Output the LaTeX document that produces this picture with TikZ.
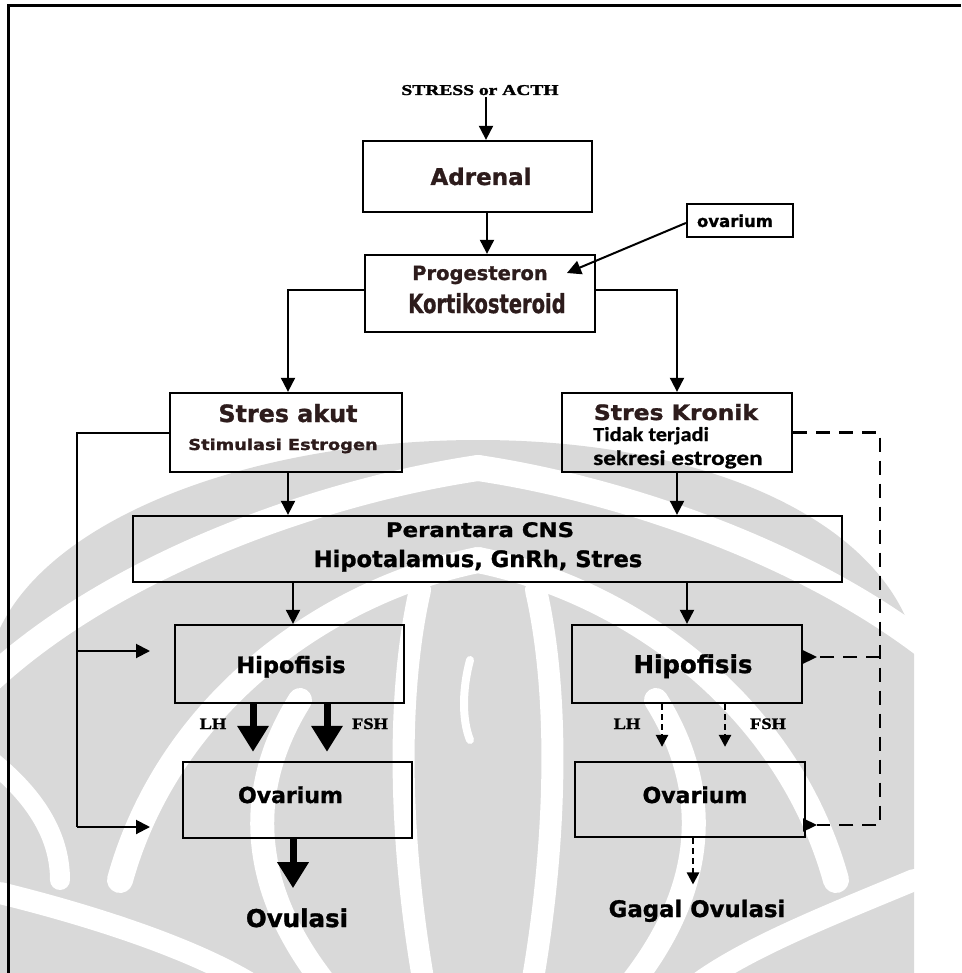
\documentclass[tikz,border=0pt]{standalone}
\usepackage{fontspec}
\setmainfont{DejaVu Sans}
\newfontfamily\hv{DejaVu Sans Bold}[FakeBold=1.2]
\newfontfamily\serifb{Liberation Serif Bold}[FakeBold=1.5]
\newfontfamily\carl{Carlito Bold}[FakeBold=0.6]
\usetikzlibrary{arrows.meta,calc}
\definecolor{wm}{RGB}{217,217,217}
\definecolor{brn}{RGB}{45,28,28}
\newcommand{\fs}[1]{\fontsize{#1}{#1}\selectfont}
\begin{document}
\begin{tikzpicture}[x=1pt,y=-1pt,
  box/.style={draw=black,line width=2.3pt,inner sep=0pt},
  txt/.style={inner sep=0pt,anchor=base,font=\hv},
  arr/.style={line width=2pt,-{Triangle[width=14pt,length=14pt]}},
  plain/.style={line width=2pt},
  thk/.style={line width=7pt,-{Triangle[width=30pt,length=26pt]}},
  dsh/.style={line width=2.5pt,dash pattern=on 6pt off 4pt,-{Triangle[width=12pt,length=12pt]}},
  dlong/.style={line width=2.2pt,dash pattern=on 14pt off 9pt},
  wb/.style={white,line width=26pt,line cap=round}]
\useasboundingbox (0,0) rectangle (961,973);
% ---------- watermark ----------
\begin{scope}
\clip (0,0) rectangle (961,973);
\fill[wm] (-5,990) -- (-5,640) .. controls (40,520) and (250,440) .. (478,440)
   .. controls (706,440) and (880,520) .. (914,640) -- (914,990) -- cycle;
% white bands
\draw[wb] (478,468) .. controls (330,490) and (120,560) .. (-10,680);
\draw[wb] (478,468) .. controls (626,490) and (836,560) .. (966,680);
\draw[wb] (478,560) .. controls (330,590) and (170,700) .. (120,880);
\draw[wb] (478,560) .. controls (626,590) and (786,700) .. (836,880);
\draw[wb,line width=22pt] (0,893) .. controls (90,915) and (200,950) .. (260,990);
\draw[wb,line width=22pt] (914,880) .. controls (830,915) and (740,950) .. (690,990);
\draw[wb,line width=22pt] (420,590) .. controls (395,700) and (400,850) .. (425,990);
\draw[wb,line width=22pt] (536,590) .. controls (561,700) and (556,850) .. (531,990);
\draw[wb,line width=8pt] (470,660) .. controls (462,690) and (462,720) .. (470,740);
\draw[wb,line width=24pt] (300,700) .. controls (250,780) and (240,880) .. (330,990);
\draw[wb,line width=24pt] (656,700) .. controls (706,780) and (716,880) .. (626,990);
\draw[wb,line width=20pt] (-10,760) .. controls (40,800) and (60,840) .. (60,880);
\end{scope}
% ---------- frame ----------
\draw[line width=3pt] (8,973) -- (8,6) -- (961,6);
% ---------- boxes ----------
\node[box,minimum width=229pt,minimum height=71pt] (adr) at (477.5,176.5) {};
\node[box,minimum width=230pt,minimum height=77pt] (prog) at (480,293.5) {};
\node[box,minimum width=106pt,minimum height=33pt] (ovb) at (740,220.5) {};
\node[box,minimum width=232pt,minimum height=79pt] (sa) at (286,432.5) {};
\node[box,minimum width=230pt,minimum height=79pt] (sk) at (677,432.5) {};
\node[box,minimum width=709pt,minimum height=66pt] (cns) at (487.5,549) {};
\node[box,minimum width=229pt,minimum height=78pt] (hl) at (289.5,664) {};
\node[box,minimum width=230pt,minimum height=78pt] (hr) at (687,664) {};
\node[box,minimum width=229pt,minimum height=76pt] (ol) at (297.5,800) {};
\node[box,minimum width=230pt,minimum height=75pt] (or) at (690,799.5) {};
% ---------- texts ----------
\node[txt] (st) at (480,95) {\scalebox{1.3}[1]{\serifb\fs{15}STRESS or ACTH}};
\node[txt,text=brn] (adrt) at (481,185) {\fs{23}Adrenal};
\node[txt,text=brn] (ptxt) at (480,280) {\fs{19.5}Progesteron};
\node[txt,text=brn] (ktxt) at (487,313) {\scalebox{1}[1.35]{\fs{19.5}Kortikosteroid}};
\node[txt] (ovt) at (735,227) {\fs{16.5}ovarium};
\node[txt,text=brn] (sat) at (288,422) {\fs{23.8}Stres akut};
\node[txt,text=brn] (set) at (283,450) {\scalebox{1}[0.85]{\fs{17.8}Stimulasi Estrogen}};
\node[txt,text=brn] (skt) at (676,420) {\scalebox{1}[0.9]{\fs{23.5}Stres Kronik}};
\node[txt,anchor=base west] (tt) at (593,441) {\scalebox{1.06}[0.95]{\carl\fs{21}Tidak terjadi}};
\node[txt,anchor=base west] (sek) at (593,465) {\scalebox{1.2}[1]{\carl\fs{21}sekresi estrogen}};
\node[txt] (pc) at (480,537) {\scalebox{1}[0.88]{\fs{22.8}Perantara CNS}};
\node[txt] (hg) at (478,567) {\fs{22.6}Hipotalamus, GnRh, Stres};
\node[txt] (hlt) at (291,673) {\fs{22.5}Hipofisis};
\node[txt] (hrt) at (693,673) {\fs{24.5}Hipofisis};
\node[txt] (olt) at (290.5,803) {\fs{22}Ovarium};
\node[txt] (ort) at (695,803) {\fs{22}Ovarium};
\node[txt] (ovul) at (297,927) {\fs{24.5}Ovulasi};
\node[txt] (gag) at (697,917) {\fs{22.8}Gagal Ovulasi};
\node[txt] (lhl) at (213,729) {\scalebox{1.15}[1]{\serifb\fs{16}LH}};
\node[txt] (fsl) at (370,729) {\scalebox{1.15}[1]{\serifb\fs{16}FSH}};
\node[txt] (lhr) at (627,729) {\scalebox{1.15}[1]{\serifb\fs{16}LH}};
\node[txt] (fsr) at (768,729) {\scalebox{1.15}[1]{\serifb\fs{16}FSH}};
% ---------- free ends ----------
\coordinate (lx) at (77,0);
\coordinate (lh) at (150,651);
\coordinate (lo) at (150,827);
\coordinate (rx) at (880,0);
\coordinate (rh) at (817,657);
\coordinate (ro) at (817,825);
% ---------- connectors ----------
\draw[arr] ([xshift=6pt,yshift=-2pt]st.south) -- ([xshift=8.5pt]adr.north);
\draw[arr] ([xshift=9.5pt]adr.south) -- ([xshift=7pt]prog.north);
\draw[arr] ([yshift=-2.5pt]ovb.west) -- ($(ptxt.east)+(19,-2)$);
\draw[arr] ([yshift=3.5pt]prog.west) -| ([xshift=2pt]sa.north);
\draw[arr] ([yshift=3.5pt]prog.east) -| (sk.north);
\draw[arr] ([xshift=2pt]sa.south) -- ([xshift=2pt]sa.south |- cns.north);
\draw[arr] (sk.south) -- (sk.south |- cns.north);
\draw[arr] ([xshift=3.5pt]hl.north |- cns.south) -- ([xshift=3.5pt]hl.north);
\draw[arr] (hr.north |- cns.south) -- (hr.north);
\draw[thk] ($(hl.south)+(-36.5,0)$) -- ($(ol.north)+(-44.5,-9)$);
\draw[thk] ($(hl.south)+(37.5,0)$) -- ($(ol.north)+(29.5,-9)$);
\draw[thk] ($(ol.south)+(-4.5,0)$) -- ($(ovul.north)+(-4,-20)$);
\draw[dsh] ($(hr.south)+(-25,0)$) -- ($(or.north)+(-28,-14)$);
\draw[dsh] ($(hr.south)+(38,0)$) -- ($(or.north)+(35,-14)$);
\draw[dsh] ($(or.south)+(3,0)$) -- ($(gag.north)+(-4,-15)$);
\draw[plain] (sa.west) -- (lx |- sa.west) -- (lx |- lo);
\draw[arr] (lx |- lo) -- (lo);
\draw[arr] (lx |- lh) -- (lh);
\draw[dlong] (sk.east) -- (rx |- sk.east) -- (rx |- ro) -- (ro);
\draw[line width=2.2pt,-{Triangle[width=13pt,length=14pt]}] ($(ro)+(-3,0)$) -- (ro);
\draw[dlong] (rx |- rh) -- (rh);
\draw[line width=2.2pt,-{Triangle[width=13pt,length=14pt]}] ($(rh)+(-3,0)$) -- (rh);
\end{tikzpicture}
\end{document}
